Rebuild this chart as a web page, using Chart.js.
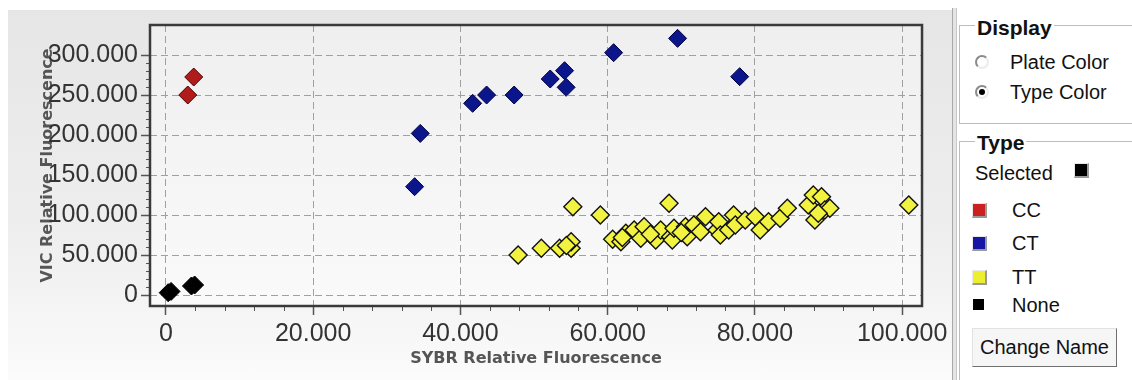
<!DOCTYPE html>
<html><head><meta charset="utf-8">
<script src="https://cdn.jsdelivr.net/npm/chart.js@4"></script>
<style>
body{margin:0;width:1132px;height:380px;overflow:hidden;background:#fff;font-family:"Liberation Sans",Arial,sans-serif;position:relative;color:#111}
#bg{position:absolute;left:8px;top:10px;width:944px;height:370px;background:linear-gradient(#e6e6e6,#eeeeee 60%,#fbfbfb)}
#c{position:absolute;left:0;top:0}
#sep{position:absolute;left:952px;top:8px;width:3px;height:372px;border-left:1px solid #a9a9a9;border-right:1px solid #c8c8c8;background:#e4e4e4}
.box{position:absolute;left:959px;width:200px;border:1px solid #bdbdbd;border-right:none}
.t{position:absolute;height:24px;line-height:24px;font-size:20px;white-space:nowrap}
.b{font-weight:bold;background:#fff;padding:0 2px;font-size:21px}
.radio{position:absolute;width:10px;height:10px;border-radius:50%;border:2px solid;border-color:#8a8a8a #ececec #ececec #8a8a8a;background:#fff}
.dot{position:absolute;left:2px;top:2px;width:6px;height:6px;border-radius:50%;background:#000}
.sw{position:absolute;width:12px;height:12px;border-style:solid;border-width:1px 2px 2px 1px;border-color:#e8e8e8 #9a9a9a #9a9a9a #e8e8e8}
#btn{position:absolute;left:972px;top:328px;width:143px;height:37px;background:#f6f6f6;border:1px solid;border-color:#e2e2e2 #707070 #707070 #e2e2e2;font-size:20px;line-height:37px;text-align:center;white-space:nowrap}
</style></head>
<body>
<div id="bg"></div>
<canvas id="c" width="952" height="380"></canvas>
<div id="sep"></div>
<div class="box" style="top:25px;height:97px"></div>
<div class="t b" style="left:975px;top:16px">Display</div>
<div class="radio" style="left:975px;top:55px"></div>
<div class="t" style="left:1010px;top:50px">Plate Color</div>
<div class="radio" style="left:975px;top:85px"><div class="dot"></div></div>
<div class="t" style="left:1010px;top:80px">Type Color</div>
<div class="box" style="top:141px;height:260px"></div>
<div class="t b" style="left:975px;top:131px">Type</div>
<div class="t" style="left:975px;top:161px">Selected</div>
<div class="sw" style="left:1074px;top:163px;background:#000"></div>
<div class="sw" style="left:972px;top:203px;background:#cc1f1f"></div>
<div class="t" style="left:1012px;top:198px">CC</div>
<div class="sw" style="left:972px;top:236px;background:#1616a4"></div>
<div class="t" style="left:1012px;top:231px">CT</div>
<div class="sw" style="left:972px;top:270px;background:#eeee30"></div>
<div class="t" style="left:1012px;top:265px">TT</div>
<div style="position:absolute;left:973px;top:299px;width:11px;height:11px;background:#000"></div>
<div class="t" style="left:1012px;top:293px">None</div>
<div id="btn">Change Name</div>
<script>
// ---- data ----
const xTickValues = [0, 20000, 40000, 60000, 80000, 100000];
const xTickLabels = ['0', '20.000', '40.000', '60.000', '80.000', '100.000'];
const yTickValues = [0, 50000, 100000, 150000, 200000, 250000, 300000];
const yTickLabels = ['0', '50.000', '100.000', '150.000', '200.000', '250.000', '300.000'];

const ccX = [2970, 3780];
const ccY = [250000, 272500];

const ctX = [33780, 34550, 41660, 43560, 47300, 52200, 54150, 54360, 60810, 69500, 77930];
const ctY = [135400, 202000, 239600, 250000, 250000, 270000, 280400, 259600, 302900, 320800, 272900];

const ttX = [47840, 50990, 53470, 55040, 55040, 54400, 55270, 59010, 68340, 100900,
  60680, 61800, 62470, 63600, 64500, 64950, 66530, 67200, 68560, 68780,
  69010, 70580, 70810, 71710, 72610, 73290, 74860, 75090, 75310, 76440,
  77110, 77340, 78690, 80050, 80720, 81850, 83420, 84410, 87250, 87930,
  89050, 88150, 89500, 90180, 88600, 65800, 62000, 70000];
const ttY = [50000, 58300, 58300, 58300, 66600, 62000, 110400, 100000, 114600, 112500,
  69600, 66600, 77100, 81250, 70800, 85400, 68750, 81250, 72900, 68750,
  83300, 85400, 72900, 87500, 79200, 97900, 81250, 91600, 75000, 81250,
  100000, 87500, 93750, 97900, 81250, 91600, 95800, 108400, 112500, 125000,
  122900, 93750, 106250, 108400, 102100, 76000, 72000, 78000];

const noneX = [310, 700, 3470, 3900];
const noneY = [2900, 4500, 11250, 12500];

const minorXStep = 4000, minorYStep = 10000;

// ---- chart ----
const pts = (xs, ys) => xs.map((x, i) => ({x: x, y: ys[i]}));
const tickFont = {family: 'Liberation Sans', size: 25};
const titleFont = {family: 'DejaVu Sans', size: 16, weight: 'bold'};

const frame = {
  id: 'frame',
  beforeDraw(chart) {
    const {ctx, chartArea: a} = chart;
    const g = ctx.createLinearGradient(0, a.top, 0, a.bottom);
    g.addColorStop(0, '#efefef');
    g.addColorStop(1, '#fafafa');
    ctx.save();
    ctx.fillStyle = g;
    ctx.fillRect(a.left, a.top, a.width, a.height);
    ctx.restore();
  },
  afterDraw(chart) {
    const {ctx, chartArea: a, scales: {x, y}} = chart;
    ctx.save();
    ctx.strokeStyle = '#555';
    ctx.lineWidth = 1;
    ctx.beginPath();
    for (let v = minorXStep; v < xTickValues[xTickValues.length - 1]; v += minorXStep) {
      if (xTickValues.includes(v)) continue;
      const px = Math.round(x.getPixelForValue(v)) + 0.5;
      ctx.moveTo(px, a.bottom); ctx.lineTo(px, a.bottom + 5);
    }
    for (let v = minorYStep; v < yTickValues[yTickValues.length - 1]; v += minorYStep) {
      if (yTickValues.includes(v)) continue;
      const py = Math.round(y.getPixelForValue(v)) + 0.5;
      ctx.moveTo(a.left - 4, py); ctx.lineTo(a.left, py);
    }
    ctx.stroke();
    ctx.strokeStyle = '#3a3a3a';
    ctx.lineWidth = 2.5;
    ctx.strokeRect(a.left, a.top, a.width, a.height);
    ctx.restore();
  }
};

new Chart(document.getElementById('c'), {
  type: 'scatter',
  data: {
    datasets: [
      {label: 'TT', data: pts(ttX, ttY), backgroundColor: '#f2f240', borderColor: '#111', borderWidth: 1.4},
      {label: 'None', data: pts(noneX, noneY), backgroundColor: '#000', borderColor: '#000'},
      {label: 'CT', data: pts(ctX, ctY), backgroundColor: '#0c168c', borderColor: '#000040'},
      {label: 'CC', data: pts(ccX, ccY), backgroundColor: '#b01c1c', borderColor: '#500000'}
    ]
  },
  options: {
    responsive: false,
    animation: false,
    devicePixelRatio: 1,
    layout: {padding: {left: 0, top: 25, right: 26, bottom: 0}},
    elements: {point: {pointStyle: 'rectRot', radius: 9, borderWidth: 1, hoverRadius: 9}},
    plugins: {legend: {display: false}, tooltip: {enabled: false}},
    scales: {
      x: {
        type: 'linear', min: -2160, max: 102700,
        afterBuildTicks: s => { s.ticks = xTickValues.map(v => ({value: v})); },
        afterFit: s => { s.height = 74; },
        ticks: {font: tickFont, color: '#333', padding: 4, maxRotation: 0, autoSkip: false,
          callback: v => xTickLabels[xTickValues.indexOf(v)]},
        grid: {color: '#a0a0a0', lineWidth: 1, tickLength: 9, tickColor: '#555', tickWidth: 1.5},
        border: {display: false, dash: [7, 4]},
        title: {display: true, text: 'SYBR Relative Fluorescence', font: titleFont, color: '#555',
          padding: {top: 0, bottom: 12}}
      },
      y: {
        type: 'linear', min: -13750, max: 337500,
        afterBuildTicks: s => { s.ticks = yTickValues.map(v => ({value: v})); },
        afterFit: s => { s.width = 150; },
        ticks: {font: tickFont, color: '#333', padding: 3, autoSkip: false,
          callback: v => yTickLabels[yTickValues.indexOf(v)]},
        grid: {color: '#a0a0a0', lineWidth: 1, tickLength: 9, tickColor: '#555', tickWidth: 1.5},
        border: {display: false, dash: [7, 4]},
        title: {display: true, text: 'VIC Relative Fluorescence', font: titleFont, color: '#555',
          padding: {top: 38, bottom: 0}}
      }
    }
  },
  plugins: [frame]
});
</script>
</body></html>
